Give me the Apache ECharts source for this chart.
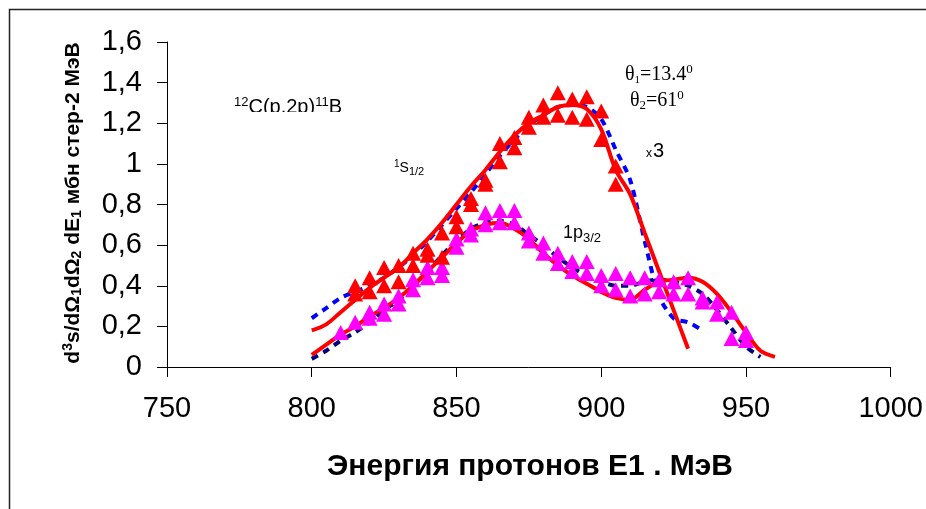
<!DOCTYPE html>
<html>
<head>
<meta charset="utf-8">
<script src="https://cdn.jsdelivr.net/npm/echarts@6/dist/echarts.min.js"></script>
<style>
  html, body { margin: 0; padding: 0; background: #fff; }
  #main { width: 926px; height: 509px; }
</style>
</head>
<body>
<div id="main"></div>
<script>
// Экспериментальные точки 1s1/2 (x3), пары значений на каждой энергии
const redPtsE = [815, 815, 820, 820, 825, 825, 830, 830, 835, 835, 840, 840, 845, 845,
                 850, 850, 855, 855, 860, 860, 865, 865, 870, 870, 875, 875, 880, 880,
                 885, 885, 890, 890, 895, 895, 900, 900, 905, 905];
const redPtsV = [0.40, 0.36, 0.44, 0.37, 0.49, 0.40, 0.50, 0.42, 0.56, 0.50, 0.58, 0.55, 0.66, 0.54,
                 0.74, 0.69, 0.83, 0.80, 0.92, 0.90, 1.10, 1.01, 1.13, 1.08, 1.23, 1.18, 1.29, 1.23,
                 1.35, 1.24, 1.32, 1.23, 1.33, 1.22, 1.26, 1.12, 0.99, 0.90];

// Экспериментальные точки 1p3/2
const magE = [810, 815, 820, 820, 825, 825, 830, 830, 835, 835, 840, 840, 845, 845,
              850, 850, 855, 855, 860, 860, 865, 865, 870, 870, 875, 875, 880, 880,
              885, 885, 890, 890, 895, 895, 900, 900, 905, 905, 910, 910, 915, 915,
              920, 920, 925, 925, 930, 930, 935, 935, 940, 940, 945, 945, 950, 950];
const magV = [0.17, 0.22, 0.27, 0.24, 0.31, 0.26, 0.35, 0.31, 0.43, 0.38, 0.49, 0.44, 0.49, 0.45,
              0.63, 0.59, 0.68, 0.65, 0.76, 0.70, 0.77, 0.71, 0.77, 0.71, 0.66, 0.62, 0.61, 0.56,
              0.56, 0.51, 0.52, 0.47, 0.52, 0.46, 0.45, 0.40, 0.46, 0.38, 0.44, 0.35, 0.44, 0.36,
              0.43, 0.37, 0.42, 0.36, 0.44, 0.36, 0.34, 0.32, 0.32, 0.26, 0.27, 0.14, 0.17, 0.13];

// Расчёт (красные сплошные линии)
const upFitE = [800, 805, 810, 815, 820, 825, 830, 835, 840, 845, 850, 855, 860, 865,
                870, 875, 880, 885, 890, 895, 900, 905, 910, 915, 920, 925, 930];
const upFitV = [0.18, 0.21, 0.27, 0.33, 0.39, 0.44, 0.49, 0.56, 0.63, 0.71, 0.80, 0.89, 0.97, 1.06,
                1.14, 1.20, 1.24, 1.28, 1.29, 1.27, 1.17, 0.97, 0.85, 0.66, 0.47, 0.28, 0.09];
const lowFitE = [800, 805, 810, 815, 820, 825, 830, 835, 840, 845, 850, 855, 860, 865, 870, 875,
                 880, 885, 890, 895, 900, 905, 910, 915, 920, 925, 930, 935, 940, 945, 950, 955, 960];
const lowFitV = [0.06, 0.11, 0.16, 0.20, 0.25, 0.29, 0.34, 0.40, 0.47, 0.54, 0.61, 0.67, 0.70, 0.71, 0.68, 0.63,
                 0.56, 0.50, 0.45, 0.41, 0.37, 0.34, 0.33, 0.38, 0.42, 0.43, 0.44, 0.42, 0.36, 0.27, 0.17, 0.08, 0.05];

// Расчёт (синие пунктирные линии)
const upCalcE = [800, 805, 810, 815, 820, 825, 830, 835, 840, 845, 850, 855, 860, 865,
                 870, 875, 880, 885, 890, 895, 900, 905, 910, 915, 920, 925, 930, 935];
const upCalcV = [0.24, 0.29, 0.34, 0.37, 0.40, 0.44, 0.49, 0.55, 0.62, 0.70, 0.78, 0.86, 0.95, 1.04,
                 1.12, 1.19, 1.24, 1.28, 1.29, 1.28, 1.22, 1.07, 0.92, 0.62, 0.35, 0.24, 0.22, 0.18];
const lowCalcE = [800, 805, 810, 815, 820, 825, 830, 835, 840, 845, 850, 855, 860, 865, 870, 875,
                  880, 885, 890, 895, 900, 905, 910, 915, 920, 925, 930, 935, 940, 945, 950, 955];
const lowCalcV = [0.04, 0.08, 0.13, 0.17, 0.22, 0.28, 0.33, 0.40, 0.47, 0.55, 0.62, 0.68, 0.71, 0.72, 0.70, 0.65,
                  0.60, 0.54, 0.49, 0.45, 0.42, 0.40, 0.40, 0.42, 0.43, 0.42, 0.40, 0.36, 0.28, 0.19, 0.10, 0.05];

function pairs(xs, ys) {
    return xs.map(function (x, i) { return [x, ys[i]]; });
}

const FONT = '"Liberation Sans", Arial, sans-serif';
const SERIF = '"Liberation Serif", "Times New Roman", serif';

const chart = echarts.init(document.getElementById('main'));

const option = {
    backgroundColor: '#fff',
    animation: false,
    grid: { left: 167, right: 34, top: 42, bottom: 142 },
    xAxis: {
        type: 'value',
        min: 750,
        max: 1000,
        interval: 50,
        axisLine: { lineStyle: { color: '#000', width: 1 } },
        axisTick: { show: true, length: 10, lineStyle: { color: '#000' } },
        axisLabel: {
            color: '#000', fontSize: 29, fontFamily: FONT, margin: 27,
            formatter: function (v) { return String(v); }
        },
        splitLine: { show: false }
    },
    yAxis: {
        type: 'value',
        min: 0,
        max: 1.6,
        interval: 0.2,
        axisLine: { show: true, lineStyle: { color: '#000', width: 1 } },
        axisTick: { show: true, length: 10, lineStyle: { color: '#000' } },
        axisLabel: {
            color: '#000', fontSize: 29, fontFamily: FONT, margin: 25,
            formatter: function (v) { return String(+v.toFixed(1)).replace('.', ','); }
        },
        splitLine: { show: false }
    },
    series: [
        {
            name: 'calc 1s', type: 'line', smooth: 0.3, symbol: 'none',
            lineStyle: { color: '#0000ff', width: 4, type: [7, 6] },
            data: pairs(upCalcE, upCalcV), z: 1
        },
        {
            name: 'calc 1p', type: 'line', smooth: 0.3, symbol: 'none',
            lineStyle: { color: '#000080', width: 4, type: [7, 6] },
            data: pairs(lowCalcE, lowCalcV), z: 1
        },
        {
            name: 'fit 1s', type: 'line', smooth: 0.3, symbol: 'none',
            lineStyle: { color: '#ff0000', width: 4 },
            data: pairs(upFitE, upFitV), z: 2
        },
        {
            name: 'fit 1p', type: 'line', smooth: 0.3, symbol: 'none',
            lineStyle: { color: '#ff0000', width: 4 },
            data: pairs(lowFitE, lowFitV), z: 2
        },
        {
            name: '1p3/2', type: 'scatter', symbol: 'triangle', symbolSize: [16, 15],
            itemStyle: { color: '#ff00ff', opacity: 1 },
            data: pairs(magE, magV), z: 3
        },
        {
            name: '1s1/2 x3', type: 'scatter', symbol: 'triangle', symbolSize: [16, 15],
            itemStyle: { color: '#ff0000', opacity: 1 },
            data: pairs(redPtsE, redPtsV), z: 4
        }
    ],
    graphic: [
        {
            type: 'rect', silent: true,
            shape: { x: 9.5, y: 9.5, width: 1000, height: 1000 },
            style: { fill: 'none', stroke: '#222', lineWidth: 1.5 }
        },
        {
            type: 'text', x: 73, y: 203, rotation: Math.PI / 2,
            style: {
                text: '{b|d}{bs|3}{b|s/dΩ}{bi|1}{b|dΩ}{bi|2}{b| dE}{bi|1}{b| мбн стер-2 МэВ}',
                align: 'center', verticalAlign: 'middle', fill: '#000',
                rich: {
                    b: { fontSize: 21, fontWeight: 'bold', fontFamily: FONT },
                    bs: { fontSize: 14, fontWeight: 'bold', fontFamily: FONT, padding: [0, 0, 10, 0] },
                    bi: { fontSize: 14, fontWeight: 'bold', fontFamily: FONT, padding: [9, 0, 0, 0] }
                }
            }
        },
        {
            type: 'text', x: 530, y: 467,
            style: {
                text: 'Энергия протонов E1 . МэВ',
                align: 'center', verticalAlign: 'middle', fill: '#000',
                fontSize: 30, fontWeight: 'bold', fontFamily: FONT
            }
        },
        {
            type: 'text', x: 234, y: 107,
            style: {
                text: '{s|12}{m|C(p,2p)}{s|11}{m|B}',
                verticalAlign: 'middle', fill: '#000',
                rich: {
                    m: { fontSize: 20, fontFamily: FONT },
                    s: { fontSize: 13, fontFamily: FONT, padding: [0, 0, 10, 0] }
                }
            }
        },
        {
            // нижняя часть подписи обрезана, как на исходном рисунке
            type: 'rect', silent: true, z: 200,
            shape: { x: 228, y: 112, width: 130, height: 12 },
            style: { fill: '#fff' }
        },
        {
            type: 'text', x: 394, y: 168,
            style: {
                text: '{s|1}{m|S}{i|1/2}',
                verticalAlign: 'middle', fill: '#000',
                rich: {
                    m: { fontSize: 14, fontFamily: FONT },
                    s: { fontSize: 10, fontFamily: FONT, padding: [0, 0, 7, 0] },
                    i: { fontSize: 11, fontFamily: FONT, padding: [7, 0, 0, 0] }
                }
            }
        },
        {
            type: 'text', x: 563, y: 233,
            style: {
                text: '{m|1p}{i|3/2}',
                verticalAlign: 'middle', fill: '#000',
                rich: {
                    m: { fontSize: 18, fontFamily: FONT },
                    i: { fontSize: 13, fontFamily: FONT, padding: [10, 0, 0, 0] }
                }
            }
        },
        {
            type: 'text', x: 625, y: 75,
            style: {
                text: '{m|θ}{i|1}{m|=13.4}{s|0}',
                verticalAlign: 'middle', fill: '#000',
                rich: {
                    m: { fontSize: 20, fontFamily: SERIF },
                    i: { fontSize: 11, fontFamily: SERIF, padding: [10, 0, 0, 0] },
                    s: { fontSize: 13, fontFamily: SERIF, padding: [0, 0, 11, 0] }
                }
            }
        },
        {
            type: 'text', x: 630, y: 101,
            style: {
                text: '{m|θ}{i|2}{m|=61}{s|0}',
                verticalAlign: 'middle', fill: '#000',
                rich: {
                    m: { fontSize: 20, fontFamily: SERIF },
                    i: { fontSize: 13, fontFamily: SERIF, padding: [10, 0, 0, 0] },
                    s: { fontSize: 13, fontFamily: SERIF, padding: [0, 0, 11, 0] }
                }
            }
        },
        {
            type: 'text', x: 646, y: 151,
            style: {
                text: '{x|x}{m|3}',
                verticalAlign: 'middle', fill: '#000',
                rich: {
                    m: { fontSize: 20, fontFamily: FONT },
                    x: { fontSize: 12, fontFamily: FONT, padding: [6, 1, 0, 0] }
                }
            }
        }
    ]
};

chart.setOption(option);
window.addEventListener('resize', function () { chart.resize(); });
</script>
</body>
</html>
